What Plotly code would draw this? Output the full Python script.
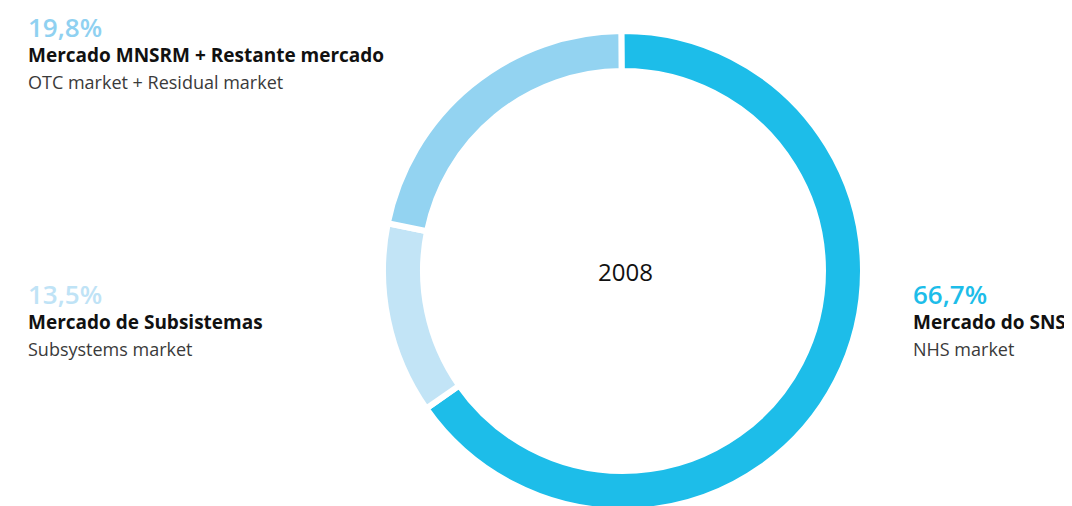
import plotly.graph_objects as go

# Data
labels_pt = ["Mercado do SNS", "Mercado de Subsistemas", "Mercado MNSRM + Restante mercado"]
labels_en = ["NHS market", "Subsystems market", "OTC market + Residual market"]
share_text = ["66,7%", "13,5%", "19,8%"]          # percentages printed on the chart
slice_values = [65.4, 12.9, 21.7]                 # slice sizes as drawn in the ring
year_label = "2008"

# Styles
colors = ["#1dbde9", "#c2e4f6", "#93d3f1"]
pct_colors = ["#1dbde9", "#bfe3f6", "#8fd1f1"]

# page body has an 8px margin; work in screen pixels and convert
OFF = 8
W, H = 1072, 530
cx, cy, R = 623, 271, 240
GAP = 6


def px(sx):
    return (sx - OFF) / W


def py(sy):
    return 1 - (sy - OFF) / H


fig = go.Figure()
fig.add_trace(go.Pie(
    labels=labels_pt,
    values=slice_values,
    sort=False,
    direction="clockwise",
    rotation=-0.4,
    hole=(203 - GAP / 2) / R,
    marker=dict(colors=colors, line=dict(color="white", width=GAP)),
    textinfo="none",
    hoverinfo="label",
    showlegend=False,
    domain=dict(x=[px(cx - R), px(cx + R)], y=[py(cy + R), py(cy - R)]),
))

# label positions (screen pixels): x, y of percent line
pos = [(911, 293.5), (26, 294), (26, 27)]
for i in range(len(labels_pt)):
    x, y = pos[i]
    fig.add_annotation(x=px(x), y=py(y), xref="paper", yref="paper", xanchor="left", yanchor="middle",
                       text=share_text[i], showarrow=False,
                       font=dict(family="Open Sans", size=26, color=pct_colors[i], weight=600))
    fig.add_annotation(x=px(x), y=py(y + 28), xref="paper", yref="paper", xanchor="left", yanchor="middle",
                       text=labels_pt[i], showarrow=False,
                       font=dict(family="Open Sans", size=19, color="#111111", weight="bold"))
    fig.add_annotation(x=px(x), y=py(y + 55), xref="paper", yref="paper", xanchor="left", yanchor="middle",
                       text=labels_en[i], showarrow=False,
                       font=dict(family="Open Sans", size=18, color="#3a3a3a"))

fig.add_annotation(x=px(cx + 2), y=py(cy), xref="paper", yref="paper", xanchor="center", yanchor="middle",
                   text=year_label, showarrow=False,
                   font=dict(family="Open Sans", size=24, color="#111111"))

fig.update_layout(width=W, height=H, margin=dict(l=0, r=0, t=0, b=0),
                  paper_bgcolor="white", plot_bgcolor="white")
fig.write_html("out.html")
